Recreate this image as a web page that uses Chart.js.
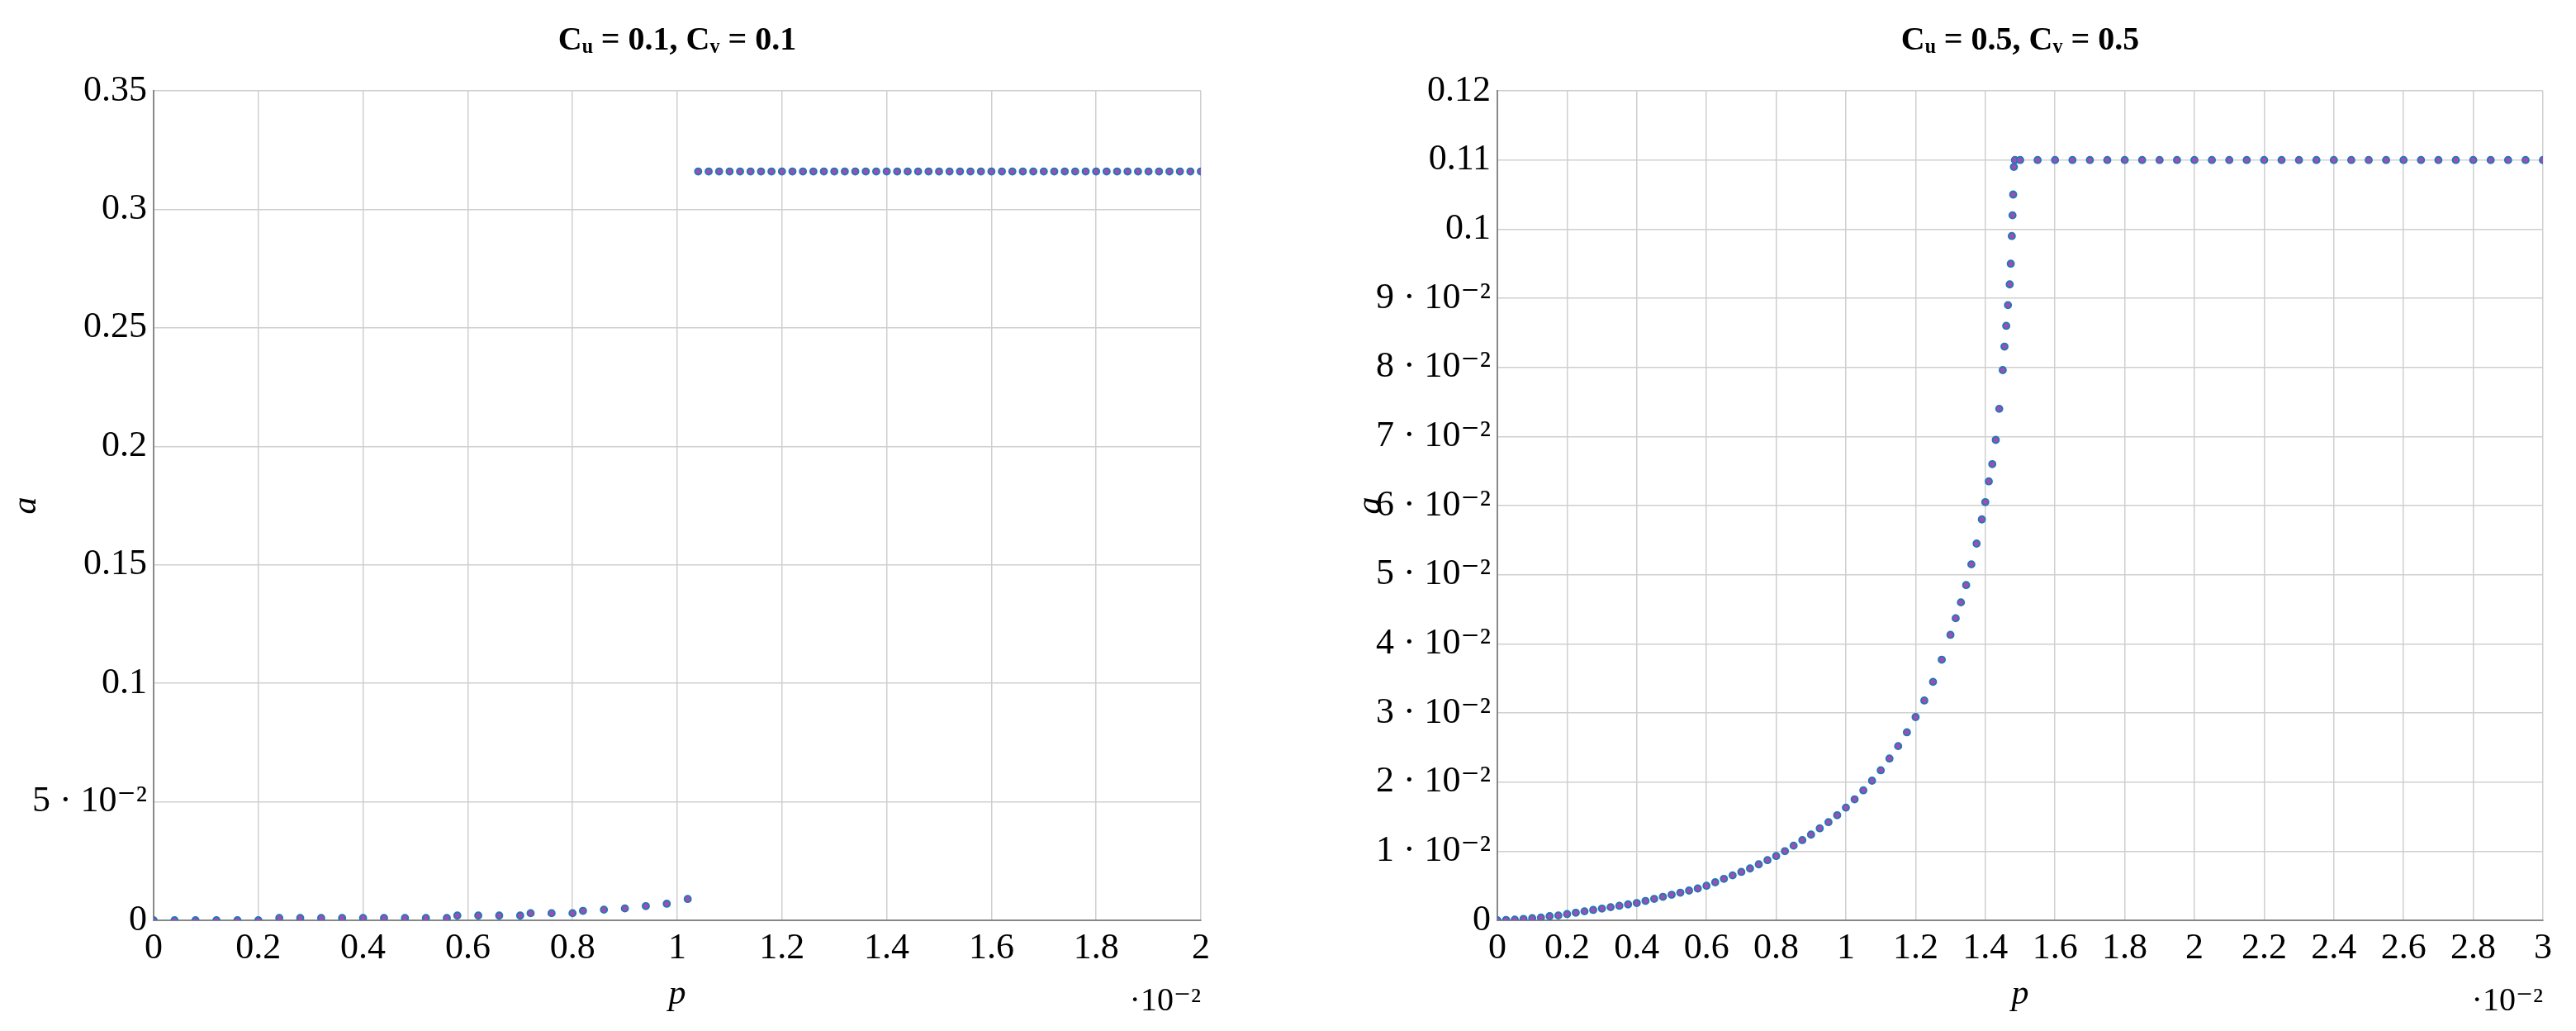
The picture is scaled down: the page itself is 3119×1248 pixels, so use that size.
<!DOCTYPE html>
<html>
<head>
<meta charset="utf-8">
<script src="https://cdn.jsdelivr.net/npm/chart.js@4/dist/chart.umd.min.js"></script>
<style>
  body { margin: 0; background: #fff; }
  .box { position: absolute; top: 0; height: 1248px; }
</style>
</head>
<body>
<div class="box" style="left:0;width:1560px"><canvas id="left"></canvas></div>
<div class="box" style="left:1560px;width:1559px"><canvas id="right"></canvas></div>
<script>
// Left panel: Cu = 0.1, Cv = 0.1  (p in units of 10^-2)
const leftLowP = [0, 0.04, 0.08, 0.12, 0.16, 0.2, 0.24, 0.28, 0.32, 0.36, 0.4, 0.44, 0.48, 0.52, 0.56,
  0.58, 0.62, 0.66, 0.7, 0.72, 0.76, 0.8, 0.82, 0.86, 0.9, 0.94, 0.98, 1.02];
const leftLowA = [0, 0, 0, 0, 0, 0, 0.001, 0.001, 0.001, 0.001, 0.001, 0.001, 0.001, 0.001, 0.001,
  0.002, 0.002, 0.002, 0.002, 0.003, 0.003, 0.003, 0.004, 0.0045, 0.005, 0.006, 0.007, 0.009];
const leftHighP = [1.04, 1.06, 1.08, 1.1, 1.12, 1.14, 1.16, 1.18, 1.2, 1.22, 1.24, 1.26, 1.28, 1.3, 1.32,
  1.34, 1.36, 1.38, 1.4, 1.42, 1.44, 1.46, 1.48, 1.5, 1.52, 1.54, 1.56, 1.58, 1.6, 1.62, 1.64, 1.66,
  1.68, 1.7, 1.72, 1.74, 1.76, 1.78, 1.8, 1.82, 1.84, 1.86, 1.88, 1.9, 1.92, 1.94, 1.96, 1.98, 2.0];
const leftHighA = leftHighP.map(() => 0.316);

// Right panel: Cu = 0.5, Cv = 0.5
const rightP = [0, 0.025, 0.05, 0.075, 0.1, 0.125, 0.15, 0.175, 0.2, 0.225, 0.25, 0.275, 0.3, 0.325, 0.35,
  0.375, 0.4, 0.425, 0.45, 0.475, 0.5, 0.525, 0.55, 0.575, 0.6, 0.625, 0.65, 0.675, 0.7, 0.725, 0.75,
  0.775, 0.8, 0.825, 0.85, 0.875, 0.9, 0.925, 0.95, 0.975, 1.0, 1.025, 1.05, 1.075, 1.1, 1.125, 1.15,
  1.175, 1.2, 1.225, 1.25, 1.275, 1.3, 1.315, 1.33, 1.345, 1.36, 1.375, 1.39, 1.4, 1.41, 1.42, 1.43,
  1.44, 1.45, 1.455, 1.46, 1.465, 1.47, 1.473, 1.476, 1.478, 1.48, 1.482, 1.485,
  1.5, 1.55, 1.6, 1.65, 1.7, 1.75, 1.8, 1.85, 1.9, 1.95, 2.0, 2.05, 2.1, 2.15, 2.2, 2.25, 2.3, 2.35,
  2.4, 2.45, 2.5, 2.55, 2.6, 2.65, 2.7, 2.75, 2.8, 2.85, 2.9, 2.95, 3.0];
const rightA = [0, 0.00005, 0.0001, 0.0002, 0.0003, 0.0004, 0.0006, 0.0007, 0.0009, 0.0011, 0.0013, 0.0015,
  0.0017, 0.0019, 0.0021, 0.0023, 0.0025, 0.0028, 0.0031, 0.0034, 0.0037, 0.004, 0.0043, 0.0046, 0.005,
  0.0055, 0.006, 0.0065, 0.007, 0.0075, 0.0081, 0.0087, 0.0093, 0.01, 0.0108, 0.0116, 0.0124, 0.0133,
  0.0142, 0.0152, 0.0163, 0.0175, 0.0188, 0.0202, 0.0217, 0.0234, 0.0252, 0.0272, 0.0294, 0.0318,
  0.0345, 0.0377, 0.0413, 0.0437, 0.046, 0.0485, 0.0515, 0.0545, 0.058, 0.0605, 0.0635, 0.066, 0.0695,
  0.074, 0.0796, 0.083, 0.086, 0.089, 0.092, 0.095, 0.099, 0.102, 0.105, 0.109, 0.11,
  0.11, 0.11, 0.11, 0.11, 0.11, 0.11, 0.11, 0.11, 0.11, 0.11, 0.11, 0.11, 0.11, 0.11, 0.11, 0.11, 0.11,
  0.11, 0.11, 0.11, 0.11, 0.11, 0.11, 0.11, 0.11, 0.11, 0.11, 0.11, 0.11, 0.11, 0.11];

const FONT = "'Liberation Serif', 'DejaVu Serif', serif";
const sup = '\u00b7 10\u207b\u00b2';

function pts(xs, ys) { return xs.map((x, i) => ({ x, y: ys[i] })); }

function fmtY(v) {
  if (v === 0) return '0';
  if (v < 0.095) return Math.round(v * 100) + ' ' + sup;
  return String(+v.toFixed(2));
}

const decor = {
  id: 'decor',
  afterDraw(chart, args, o) {
    const { ctx, chartArea: a } = chart;
    ctx.save();
    ctx.fillStyle = '#000';
    ctx.textAlign = 'center';
    ctx.textBaseline = 'middle';
    ctx.font = `bold 40px ${FONT}`;
    ctx.fillText(o.title, (a.left + a.right) / 2, 50);
    ctx.font = `italic 42px ${FONT}`;
    ctx.fillText('p', (a.left + a.right) / 2, 1204);
    ctx.save();
    ctx.translate(o.aX, (a.top + a.bottom) / 2);
    ctx.rotate(-Math.PI / 2);
    ctx.fillText('a', 0, 0);
    ctx.restore();
    ctx.textAlign = 'right';
    ctx.font = `40px ${FONT}`;
    ctx.fillText('\u00b710\u207b\u00b2', a.right, 1212);
    ctx.restore();
  }
};

function makeChart(id, datasets, xMax, yMax, yStep, leftW, rightPad, title, aX) {
  const ds = datasets.map(d => ({
    data: d, showLine: false, pointRadius: 4, pointBorderWidth: 1.8,
    pointBackgroundColor: '#9b4fb0', pointBorderColor: '#1f78b8'
  }));
  return new Chart(document.getElementById(id), {
    type: 'scatter',
    data: { datasets: ds },
    plugins: [decor],
    options: {
      responsive: true, maintainAspectRatio: false, animation: false,
      layout: { padding: { top: 110, right: rightPad, left: 0, bottom: 0 } },
      plugins: { legend: { display: false }, tooltip: { enabled: false }, decor: { title, aX } },
      scales: {
        x: {
          type: 'linear', min: 0, max: xMax,
          afterFit: s => { s.height = 134; },
          grid: { color: '#cfcfcf', lineWidth: 1.5, tickLength: 0 },
          border: { color: '#888', width: 2 },
          ticks: { stepSize: 0.2, color: '#000', font: { family: FONT, size: 44 }, padding: 8,
            maxRotation: 0, autoSkip: false, callback: v => String(+v.toFixed(1)) }
        },
        y: {
          min: 0, max: yMax,
          afterFit: s => { s.width = leftW; },
          grid: { color: '#cfcfcf', lineWidth: 1.5, tickLength: 0 },
          border: { color: '#888', width: 2 },
          ticks: { stepSize: yStep, color: '#000', font: { family: FONT, size: 44 }, padding: 8,
            autoSkip: false, callback: fmtY }
        }
      }
    }
  });
}

makeChart('left', [pts(leftLowP, leftLowA), pts(leftHighP, leftHighA)], 2, 0.35, 0.05, 186, 106,
  'C\u1d64 = 0.1, C\u1d65 = 0.1', 32);
makeChart('right', [pts(rightP, rightA)], 3, 0.12, 0.01, 253, 40,
  'C\u1d64 = 0.5, C\u1d65 = 0.5', 100);
</script>
</body>
</html>
